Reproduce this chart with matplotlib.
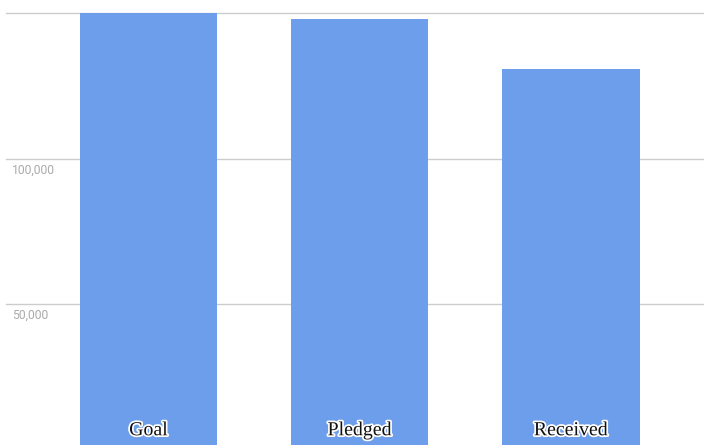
import numpy as np
import matplotlib.pyplot as plt
import matplotlib.patheffects as pe

# values
categories = ["Goal", "Pledged", "Received"]
amounts = [150000, 148000, 130800]
grid_values = [50000, 100000, 150000]
tick_labels = ["50,000", "100,000", ""]

bar_color = "#6d9eeb"

fig = plt.figure(figsize=(7.04, 4.45), dpi=100)
ax = fig.add_axes([0, 0, 1, 1])

x = np.arange(len(categories))
ax.bar(x, amounts, width=0.65, color=bar_color, zorder=2)

x0 = -148.5 / 211.25
ax.set_xlim(x0, 2 + 133 / 211.25)
ax.set_ylim(1550, 154470)

# gridlines (start a little from the left edge)
for v in grid_values:
    ax.axhline(v, xmin=6 / 704, xmax=1, color="#cccccc", lw=1, zorder=1)

for v, lab in zip(grid_values, tick_labels):
    if lab:
        ax.text(x0 + 12 / 211.25, v - 1700, lab, ha="left", va="top",
                fontsize=8.7, color="#aaaaaa", family="Roboto", zorder=3)

for xi, name in zip(x, categories):
    ax.text(xi, 4900, name, ha="center", va="baseline", fontsize=14.3,
            family="Liberation Serif", color="#111111", zorder=4,
            path_effects=[pe.withStroke(linewidth=2.5, foreground="white")])

ax.axis("off")
fig.savefig("out.png", dpi=100)
